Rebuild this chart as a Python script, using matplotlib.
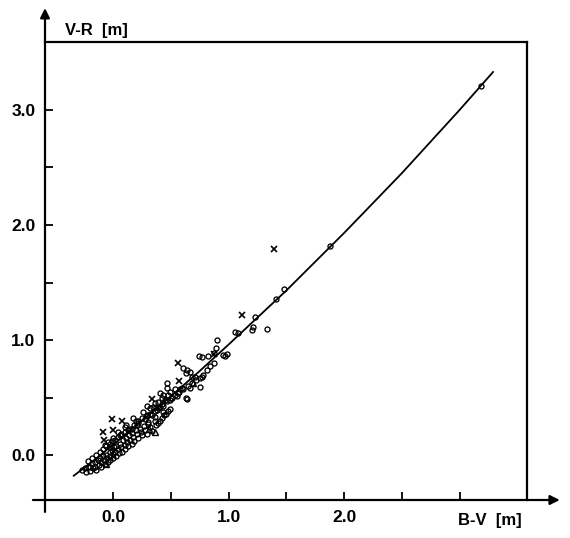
import matplotlib
matplotlib.use('Agg')
import matplotlib.pyplot as plt
import numpy as np

# relation curve
curve_bv = [-0.34, -0.17, 0.0, 0.25, 0.5, 0.75, 1.0, 1.5, 2.0, 2.5, 3.0, 3.29]
curve_vr = [-0.18, -0.05, 0.09, 0.30, 0.51, 0.73, 0.96, 1.43, 1.93, 2.45, 3.00, 3.33]

# open circles
circ_bv = [-0.27, -0.24, -0.23, -0.22, -0.20, -0.20, -0.18, -0.17, -0.16, -0.16,
           -0.15, -0.13, -0.12, -0.11, -0.10, -0.10, -0.09, -0.08, -0.07, -0.06,
           -0.05, -0.04, -0.03, -0.03, -0.03, -0.01, 0.00, 0.00, 0.01, 0.02,
           0.03, 0.03, 0.04, 0.05, 0.06, 0.07, 0.08, 0.09, 0.10, 0.10,
           0.11, 0.12, 0.13, 0.14, 0.15, 0.16, 0.16, 0.17, 0.18, 0.20,
           0.21, 0.22, 0.23, 0.24, 0.25, 0.27, 0.28, 0.29, 0.30, 0.32,
           0.34, 0.36, 0.37, 0.39, 0.41, 0.42, 0.44, 0.46, 0.48, 0.49,
           -0.07, -0.04, 0.00, -0.03, 0.04, 0.06, 0.11, 0.15, 0.20, 0.10,
           0.10, 0.21, 0.17, 0.22, 0.28, 0.30, 0.26, 0.29, 0.34, 0.36,
           0.29, 0.32, 0.35, 0.38, 0.41, 0.43, 0.36, 0.39, 0.42, 0.37,
           0.41, 0.42, 0.45, 0.49, 0.43, 0.48, 0.51, 0.55, 0.47, 0.47,
           0.49, 0.54, 0.56, 0.58, 0.60, 0.63, 0.64, 0.67, 0.61, 0.64,
           0.67, 0.63, 0.68, 0.71, 0.77, 0.78, 0.81, 0.84, 0.87, 0.75,
           0.74, 0.82, 0.87, 0.90, 0.89, 0.95, 0.99, 1.06, 1.08, 1.20,
           1.21, 1.33, 1.23, 1.41, 1.48, 1.88, 3.19, 0.77, 0.97,
           -0.22, -0.18, -0.15, -0.11, -0.09, -0.06, -0.03, -0.01, 0.02, 0.04,
           0.07, 0.13, 0.16, 0.18, 0.22, 0.25, 0.29, 0.32, 0.36, 0.39,
           0.43, 0.47, 0.50, 0.54, 0.57, 0.61, 0.65, 0.68, 0.72, 0.75]
circ_vr = [-0.13, -0.11, -0.15, -0.10, -0.10, -0.14, -0.07, -0.11, -0.06, -0.10,
           -0.13, -0.04, -0.09, -0.03, -0.06, -0.10, -0.01, -0.04, -0.08, 0.00,
           -0.03, -0.06, 0.03, -0.01, -0.04, 0.04, 0.01, -0.03, 0.07, 0.03,
           -0.01, 0.08, 0.05, 0.02, 0.10, 0.07, 0.03, 0.13, 0.09, 0.05,
           0.15, 0.11, 0.08, 0.17, 0.13, 0.10, 0.19, 0.16, 0.12, 0.22,
           0.18, 0.15, 0.23, 0.20, 0.17, 0.25, 0.22, 0.18, 0.27, 0.24,
           0.21, 0.30, 0.26, 0.28, 0.30, 0.32, 0.35, 0.36, 0.38, 0.40,
           0.09, 0.11, 0.15, 0.07, 0.20, 0.17, 0.26, 0.23, 0.30, 0.20,
           0.24, 0.26, 0.32, 0.30, 0.31, 0.29, 0.37, 0.35, 0.35, 0.33,
           0.43, 0.41, 0.42, 0.39, 0.42, 0.37, 0.45, 0.46, 0.44, 0.42,
           0.54, 0.50, 0.48, 0.48, 0.52, 0.52, 0.50, 0.51, 0.63, 0.58,
           0.55, 0.57, 0.54, 0.57, 0.58, 0.50, 0.49, 0.58, 0.76, 0.74,
           0.72, 0.71, 0.68, 0.68, 0.68, 0.70, 0.74, 0.77, 0.80, 0.59,
           0.86, 0.86, 0.89, 1.00, 0.93, 0.87, 0.88, 1.07, 1.06, 1.09,
           1.11, 1.10, 1.20, 1.36, 1.44, 1.82, 3.21, 0.85, 0.86,
           -0.05, -0.03, 0.00, 0.03, 0.05, 0.08, 0.10, 0.12, 0.13, 0.16,
           0.18, 0.22, 0.23, 0.26, 0.28, 0.32, 0.34, 0.36, 0.38, 0.41,
           0.43, 0.47, 0.50, 0.52, 0.55, 0.57, 0.60, 0.63, 0.65, 0.67]

# crosses
cross_bv = [1.39, 1.12, 0.87, 0.56, 0.57, 0.34, 0.08, -0.01, -0.09, 0.00, -0.08]
cross_vr = [1.79, 1.22, 0.88, 0.80, 0.64, 0.49, 0.30, 0.31, 0.20, 0.22, 0.13]

# triangles
tri_bv = [0.36, 0.31, -0.06, 0.69]
tri_vr = [0.20, 0.23, -0.08, 0.63]

fig = plt.figure(figsize=(5.7, 5.38), dpi=100)
ax = fig.add_axes([45/570, 1 - 500/538, 482/570, 458/538])
ax.set_xlim(-0.589, 3.584)
ax.set_ylim(-0.391, 3.591)

ax.plot(curve_bv, curve_vr, color='black', lw=1.3)
ax.plot(circ_bv, circ_vr, 'o', ms=3.6, mfc='none', mec='black', mew=0.95)
ax.plot(cross_bv, cross_vr, 'x', ms=4.2, color='black', mew=1.2)
ax.plot(tri_bv, tri_vr, '^', ms=3.8, mfc='none', mec='black', mew=1.0)

for side in ['left', 'bottom']:
    ax.spines[side].set_visible(False)
for side in ['top', 'right']:
    ax.spines[side].set_linewidth(1.6)

# axis lines with arrow heads, running past the box
ax.annotate('', xy=(0, 1.074), xytext=(0, -0.026), xycoords='axes fraction',
            arrowprops=dict(arrowstyle='-|>', lw=1.6, color='black', mutation_scale=14,
                            shrinkA=0, shrinkB=0), annotation_clip=False)
ax.annotate('', xy=(1.068, 0), xytext=(-0.025, 0), xycoords='axes fraction',
            arrowprops=dict(arrowstyle='-|>', lw=1.6, color='black', mutation_scale=14,
                            shrinkA=0, shrinkB=0), annotation_clip=False)

ax.set_xticks([0.0, 0.5, 1.0, 1.5, 2.0, 2.5, 3.0])
ax.set_xticklabels(['0.0', '', '1.0', '', '2.0', '', ''])
ax.set_yticks([0.0, 0.5, 1.0, 1.5, 2.0, 2.5, 3.0])
ax.set_yticklabels(['0.0', '', '1.0', '', '2.0', '', '3.0'])
ax.tick_params(direction='in', length=6, width=1.3, pad=7, labelsize=12.5)
for lab in ax.get_xticklabels() + ax.get_yticklabels():
    lab.set_fontweight('bold')
    lab.set_family('Liberation Sans')

fig.text(65/570, 1 - 31/538, 'V-R  [m]', ha='left', va='center', fontsize=12,
         fontweight='bold', family='Liberation Sans')
fig.text(458/570, 1 - 520/538, 'B-V  [m]', ha='left', va='center', fontsize=12,
         fontweight='bold', family='Liberation Sans')

fig.savefig('out.png', dpi=100)
